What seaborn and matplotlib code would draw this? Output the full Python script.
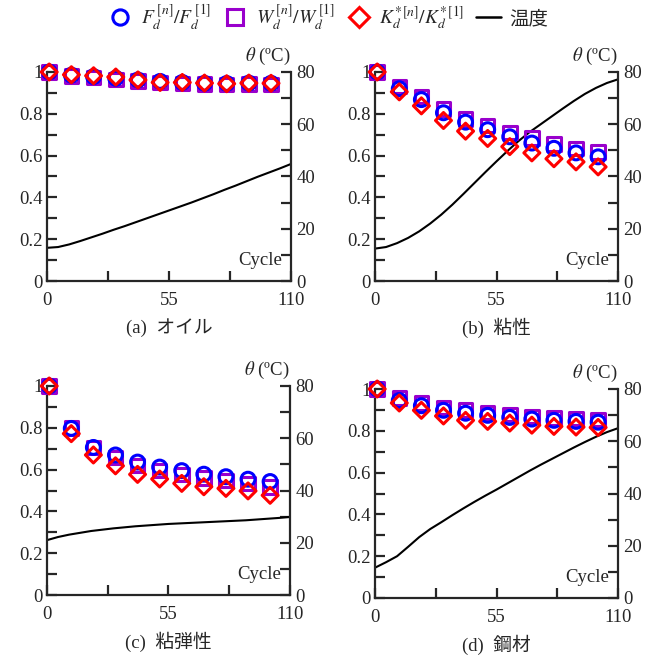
import numpy as np
import pandas as pd
import matplotlib
matplotlib.use("Agg")
import matplotlib.pyplot as plt
from matplotlib.lines import Line2D
import seaborn as sns

# ---------------- data ----------------
cycles = [1, 11, 21, 31, 41, 51, 61, 71, 81, 91, 101]
temp_cycles = [0, 5, 10, 15, 20, 25, 30, 35, 40, 45, 50, 55, 60, 65, 70, 75, 80, 85, 90, 95, 100, 105, 110]

panel_keys = ["a", "b", "c", "d"]
panel_titles = ["(a)  オイル", "(b)  粘性", "(c)  粘弾性", "(d)  鋼材"]

F_a = [1.0, 0.985, 0.978, 0.970, 0.962, 0.955, 0.950, 0.946, 0.945, 0.947, 0.946]
W_a = [1.0, 0.982, 0.974, 0.965, 0.957, 0.950, 0.946, 0.942, 0.941, 0.942, 0.941]
K_a = [1.0, 0.987, 0.982, 0.976, 0.962, 0.950, 0.950, 0.947, 0.944, 0.947, 0.946]
T_a = [12.7, 13.0, 14.0, 15.3, 16.7, 18.1, 19.6, 21.0, 22.5, 24.0, 25.5, 27.0, 28.5,
       30.0, 31.6, 33.2, 34.9, 36.5, 38.2, 39.9, 41.5, 43.1, 44.8]

F_b = [1.0, 0.920, 0.868, 0.805, 0.760, 0.724, 0.690, 0.660, 0.635, 0.613, 0.594]
W_b = [1.0, 0.931, 0.883, 0.822, 0.776, 0.744, 0.710, 0.684, 0.656, 0.635, 0.616]
K_b = [1.0, 0.905, 0.838, 0.768, 0.717, 0.682, 0.643, 0.613, 0.585, 0.570, 0.546]
T_b = [12.4, 13.0, 14.5, 16.5, 19.0, 22.0, 25.4, 29.2, 33.3, 37.5, 41.7, 45.8, 49.8,
       53.6, 57.0, 60.0, 63.0, 66.0, 68.9, 71.6, 73.9, 75.8, 77.2]

F_c = [1.0, 0.797, 0.706, 0.670, 0.636, 0.612, 0.595, 0.578, 0.566, 0.554, 0.543]
W_c = [1.0, 0.800, 0.705, 0.658, 0.620, 0.596, 0.576, 0.561, 0.547, 0.533, 0.517]
K_c = [1.0, 0.772, 0.670, 0.618, 0.577, 0.555, 0.534, 0.518, 0.510, 0.498, 0.477]
T_c = [21.0, 22.2, 23.1, 23.8, 24.5, 25.0, 25.5, 25.9, 26.3, 26.6, 26.9, 27.2, 27.4,
       27.6, 27.8, 28.0, 28.2, 28.4, 28.6, 28.9, 29.2, 29.5, 29.9]

F_d = [1.0, 0.945, 0.920, 0.898, 0.884, 0.874, 0.864, 0.856, 0.850, 0.845, 0.841]
W_d = [1.0, 0.957, 0.933, 0.912, 0.900, 0.888, 0.877, 0.869, 0.861, 0.858, 0.853]
K_d = [1.0, 0.933, 0.898, 0.871, 0.850, 0.845, 0.837, 0.827, 0.821, 0.818, 0.816]
T_d = [11.6, 13.7, 16.0, 19.6, 23.3, 26.4, 29.0, 31.7, 34.3, 36.8, 39.2, 41.5, 43.9,
       46.3, 48.7, 51.0, 53.2, 55.4, 57.6, 59.7, 61.7, 63.5, 65.0]

legend_labels = [r"$F_d^{\,[n]}/F_d^{\,[1]}$",
                 r"$W_d^{\,[n]}/W_d^{\,[1]}$",
                 r"$K^{*}_{d}{}^{[n]}/K^{*}_{d}{}^{[1]}$",
                 "温度"]

ratio_data = {"a": (F_a, W_a, K_a), "b": (F_b, W_b, K_b),
              "c": (F_c, W_c, K_c), "d": (F_d, W_d, K_d)}
temp_data = {"a": T_a, "b": T_b, "c": T_c, "d": T_d}

# ---------------- style ----------------
sns.set_style("ticks")
plt.rcParams["font.family"] = ["Liberation Serif", "Noto Sans CJK JP"]
plt.rcParams["mathtext.fontset"] = "stix"
plt.rcParams["axes.linewidth"] = 1.6

colors = {"F": "#0000FF", "W": "#9900CC", "K": "#FF0000"}
markers = {"F": "o", "W": "s", "K": "D"}
msize = {"F": 100, "W": 95, "K": 66}

fig = plt.figure(figsize=(6.59, 6.59), dpi=100)
W_px = 659.0
positions = {
    "a": (47, 72, 291, 281),
    "b": (375, 72, 618, 281),
    "c": (47, 386, 290, 595),
    "d": (375, 389, 618, 598),
}

FS = 13.5

for key, title in zip(panel_keys, panel_titles):
    l, t, r, b = positions[key]
    ax = fig.add_axes([l / W_px, 1 - b / W_px, (r - l) / W_px, (b - t) / W_px])
    F, Wv, K = ratio_data[key]
    df = pd.DataFrame({
        "cycle": cycles * 3,
        "ratio": list(F) + list(Wv) + list(K),
        "series": ["F"] * len(cycles) + ["W"] * len(cycles) + ["K"] * len(cycles),
    })
    for s in ["W", "F", "K"]:
        sub = df[df["series"] == s]
        sns.scatterplot(data=sub, x="cycle", y="ratio", ax=ax, marker=markers[s],
                        s=msize[s], facecolor="none", edgecolor=colors[s],
                        linewidth=2.2, legend=False, zorder=3, clip_on=False)
    ax.set_xlim(0, 110)
    ax.set_ylim(0, 1)
    ax.set_xticks([0, 55, 110])
    ax.set_xticks([27.5, 82.5], minor=True)
    ax.set_yticks([0, 0.2, 0.4, 0.6, 0.8, 1.0])
    ax.set_yticklabels(["0", "0.2", "0.4", "0.6", "0.8", "1"])
    ax.set_yticks(np.arange(0.1, 1.0, 0.2), minor=True)
    ax.set_xlabel("")
    ax.set_ylabel("")
    ax.tick_params(axis="both", which="both", direction="in", length=7, width=1.6,
                   labelsize=FS, pad=3)
    ax.tick_params(axis="x", pad=8)
    ax.spines["top"].set_visible(False)
    ax.spines["right"].set_visible(False)

    ax2 = ax.twinx()
    tdf = pd.DataFrame({"cycle": temp_cycles, "temp": temp_data[key]})
    sns.lineplot(data=tdf, x="cycle", y="temp", ax=ax2, color="black", linewidth=1.5)
    ax2.set_ylim(0, 80)
    ax2.set_xlim(0, 110)
    ax2.set_yticks([0, 20, 40, 60, 80])
    ax2.set_yticks([10, 30, 50, 70], minor=True)
    ax2.set_ylabel("")
    ax2.tick_params(axis="y", which="both", direction="in", length=7, width=1.6,
                    labelsize=FS, pad=4)
    ax2.spines["top"].set_visible(False)
    ax2.spines["left"].set_visible(False)
    ax2.spines["bottom"].set_visible(False)
    ax2.spines["right"].set_linewidth(1.6)
    ax.set_zorder(ax2.get_zorder() + 1)
    ax.patch.set_visible(False)

    ax.text(0.965, 0.1, "Cycle", transform=ax.transAxes, ha="right", va="center",
            fontsize=FS)
    ax.text(0.905, 1.075, r"$\theta$ (ºC)", transform=ax.transAxes, ha="center",
            va="center", fontsize=FS)
    ax.text(0.5, -0.225, title, transform=ax.transAxes, ha="center", va="center",
            fontsize=FS)

handles = [
    Line2D([], [], linestyle="none", marker="o", markersize=11, markerfacecolor="none",
           markeredgecolor=colors["F"], markeredgewidth=2.2),
    Line2D([], [], linestyle="none", marker="s", markersize=11, markerfacecolor="none",
           markeredgecolor=colors["W"], markeredgewidth=2.2),
    Line2D([], [], linestyle="none", marker="D", markersize=10, markerfacecolor="none",
           markeredgecolor=colors["K"], markeredgewidth=2.2),
    Line2D([], [], color="black", linewidth=1.8),
]
fig.legend(handles, legend_labels, loc="center", bbox_to_anchor=(328 / W_px, 1 - 17 / W_px),
           ncol=4, frameon=False, fontsize=14, handlelength=1.3, handletextpad=0.4,
           columnspacing=0.6)

fig.savefig("out.png", dpi=100)
